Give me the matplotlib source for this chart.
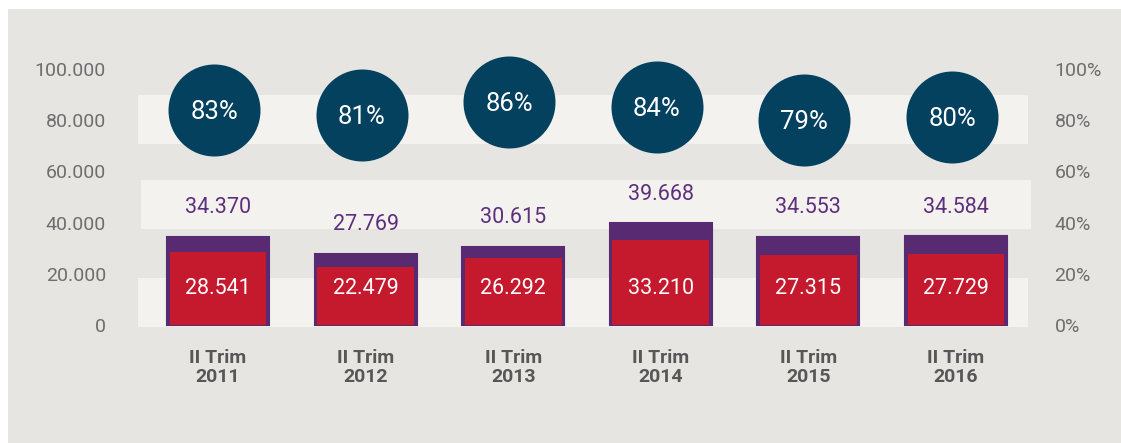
import matplotlib
matplotlib.use("Agg")
import matplotlib.pyplot as plt
from matplotlib.patches import Rectangle
from matplotlib.ticker import FuncFormatter
import matplotlib.transforms as mtransforms

# ---- data ----
categories = ["II Trim\n2011", "II Trim\n2012", "II Trim\n2013",
              "II Trim\n2014", "II Trim\n2015", "II Trim\n2016"]
totals = [34370, 27769, 30615, 39668, 34553, 34584]
reds = [28541, 22479, 26292, 33210, 27315, 27729]
pcts = [83, 81, 86, 84, 79, 80]
left_ticks = [0, 20000, 40000, 60000, 80000, 100000]
right_ticks = [0, 20, 40, 60, 80, 100]

# ---- style ----
BG = "#e6e5e1"
BAND = "#f3f2ef"
PURPLE = "#582a72"
PURPLE_TXT = "#5e2f7c"
RED = "#c5192d"
NAVY = "#03415f"
TICK = "#6e6e6e"
XLAB = "#575757"
FONT = ["Roboto", "DejaVu Sans"]
plt.rcParams["font.family"] = FONT

W, H = 1121, 443
fig = plt.figure(figsize=(W / 100, H / 100), dpi=100, facecolor="white")
fig.patches.append(Rectangle((8 / W, 0), 1, (H - 9) / H, transform=fig.transFigure,
                             facecolor=BG, edgecolor="none", zorder=-10))

ax_left, ax_right, ax_top, ax_bot = 138, 1031, 60, 330
ax = fig.add_axes([ax_left / W, (H - ax_bot) / H, (ax_right - ax_left) / W, (ax_bot - ax_top) / H])
ax.set_facecolor("none")

px_per_unit = 2.56 / 1000.0
y0 = 325
ylo = -(ax_bot - y0) / px_per_unit
yhi = (y0 - ax_top) / px_per_unit
xlo = (ax_left - 218) / 147.6
xhi = (ax_right - 218) / 147.6
ax.set_xlim(xlo, xhi)
ax.set_ylim(ylo, yhi)

# background bands
bands = [(-800, 18400, (138 - 218) / 147.6, (1028 - 218) / 147.6),
         (37500, 56600, (141 - 218) / 147.6, (1031 - 218) / 147.6),
         (70700, 89800, (138 - 218) / 147.6, (1028 - 218) / 147.6)]
for b0, b1, x0, x1 in bands:
    ax.fill_between([x0, x1], b0, b1, color=BAND, linewidth=0, zorder=0)

x = list(range(len(categories)))
ax.bar(x, totals, width=0.69, color=PURPLE, edgecolor=PURPLE, linewidth=1.5, zorder=2)
ax.bar(x, reds, width=0.655, color=RED, linewidth=0, zorder=3)

for xi, t, r in zip(x, totals, reds):
    ax.annotate(f"{t:,}".replace(",", "."), (xi, t), xytext=(0, 21), textcoords="offset points",
                ha="center", va="center", color=PURPLE_TXT, fontsize=15.5, zorder=4)
    ax.text(xi, 14300, f"{r:,}".replace(",", "."), ha="center", va="center",
            color="white", fontsize=15.5, zorder=4)

for s in ax.spines.values():
    s.set_visible(False)
ax.set_yticks(left_ticks)
ax.yaxis.set_major_formatter(FuncFormatter(lambda v, p: f"{int(v):,}".replace(",", ".")))
ax.tick_params(axis="y", length=0, pad=23, labelsize=14, labelcolor=TICK)
ax.set_xticks(x)
ax.set_xticklabels(categories, fontweight="bold", fontsize=14, color=XLAB, linespacing=1.05)
ax.tick_params(axis="x", length=0, pad=14)

ax2 = ax.twinx()
ax2.set_ylim(ylo / 1000, yhi / 1000)
ax2.set_yticks(right_ticks)
ax2.yaxis.set_major_formatter(FuncFormatter(lambda v, p: f"{int(v)}%"))
ax2.tick_params(axis="y", length=0, pad=17, labelsize=14, labelcolor=TICK)
for s in ax2.spines.values():
    s.set_visible(False)

shift = mtransforms.ScaledTranslation(-4 / 100, 3 / 100, fig.dpi_scale_trans)
ax2.scatter(x, pcts, s=(92 * 0.72) ** 2, color=NAVY, linewidths=0, zorder=5,
            clip_on=False, transform=ax2.transData + shift)
for xi, p in zip(x, pcts):
    ax2.text(xi, p - 0.8, f"{p}%", ha="center", va="center", color="white", fontsize=18.5,
             zorder=6, transform=ax2.transData + shift)

fig.savefig("out.png", dpi=100, facecolor="white")
